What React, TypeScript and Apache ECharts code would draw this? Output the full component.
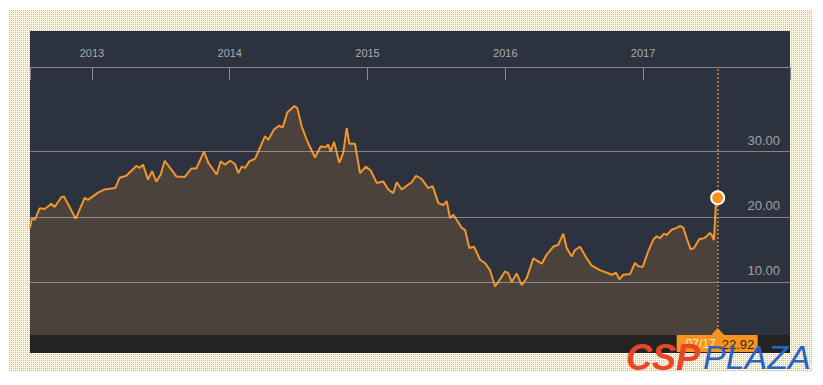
import React, { useEffect, useRef } from "react";
import * as echarts from "echarts";

// Year tick labels on the top axis
const yearTicks = [2013, 2014, 2015, 2016, 2017];
// Price labels on the right axis
const priceTicks = [10, 20, 30];

// Dates as decimal years
const dates = [
  2012.55, 2012.564, 2012.584, 2012.62, 2012.657, 2012.705, 2012.729, 2012.777, 2012.797, 2012.882,
  2012.947, 2012.971, 2013.044, 2013.092, 2013.169, 2013.201, 2013.249, 2013.322, 2013.346, 2013.37,
  2013.407, 2013.436, 2013.467, 2013.499, 2013.528, 2013.612, 2013.673, 2013.721, 2013.757, 2013.813,
  2013.844, 2013.905, 2013.934, 2013.966, 2014.002, 2014.038, 2014.062, 2014.087, 2014.111, 2014.142,
  2014.183, 2014.207, 2014.256, 2014.28, 2014.321, 2014.36, 2014.384, 2014.418, 2014.469, 2014.49,
  2014.522, 2014.563, 2014.619, 2014.66, 2014.699, 2014.715, 2014.733, 2014.757, 2014.795, 2014.824,
  2014.849, 2014.868, 2014.909, 2014.946, 2014.987, 2015.023, 2015.067, 2015.115, 2015.151, 2015.187,
  2015.212, 2015.248, 2015.321, 2015.352, 2015.393, 2015.441, 2015.473, 2015.514, 2015.55, 2015.575,
  2015.599, 2015.623, 2015.648, 2015.684, 2015.708, 2015.739, 2015.773, 2015.817, 2015.853, 2015.889,
  2015.926, 2015.95, 2015.998, 2016.022, 2016.047, 2016.083, 2016.119, 2016.156, 2016.204, 2016.265,
  2016.301, 2016.349, 2016.385, 2016.421, 2016.446, 2016.482, 2016.506, 2016.543, 2016.591, 2016.628,
  2016.688, 2016.737, 2016.773, 2016.804, 2016.828, 2016.857, 2016.906, 2016.942, 2016.966, 2016.998,
  2017.038, 2017.075, 2017.1, 2017.123, 2017.152, 2017.172, 2017.208, 2017.245, 2017.269, 2017.293,
  2017.317, 2017.346, 2017.37, 2017.409, 2017.443, 2017.462, 2017.486, 2017.499, 2017.515, 2017.53,
  2017.542,
];

// Prices
const prices = [
  18.3, 19.8, 19.5, 21.3, 21.2, 22.0, 21.5, 23.0, 23.1, 19.7,
  22.9, 22.6, 23.7, 24.2, 24.4, 26.0, 26.3, 27.8, 27.5, 28.0,
  25.7, 27.0, 25.4, 26.5, 28.6, 26.2, 26.1, 27.4, 27.4, 30.0,
  28.3, 26.5, 28.5, 28.0, 28.6, 28.1, 26.7, 27.7, 27.5, 28.5,
  28.9, 30.0, 32.4, 31.8, 33.4, 34.0, 33.7, 36.0, 37.0, 36.7,
  33.9, 31.6, 29.1, 30.8, 30.7, 31.1, 30.0, 31.5, 28.3, 29.8,
  33.6, 31.2, 31.2, 26.7, 27.7, 27.1, 25.2, 25.4, 24.2, 23.6,
  25.3, 24.2, 25.3, 26.3, 25.8, 24.4, 24.7, 22.1, 21.8, 22.4,
  19.8, 20.3, 19.5, 18.3, 18.0, 15.2, 15.4, 13.4, 12.9, 11.8,
  9.3, 10.0, 11.6, 11.3, 10.0, 11.3, 9.5, 10.6, 13.6, 12.8,
  14.2, 15.4, 15.7, 17.4, 15.2, 13.9, 14.9, 15.4, 13.6, 12.5,
  11.8, 11.4, 11.1, 11.4, 10.4, 11.1, 11.2, 12.9, 12.4, 12.3,
  14.7, 16.5, 17.0, 16.7, 17.4, 17.2, 18.0, 18.3, 18.6, 18.3,
  16.7, 15.0, 15.2, 16.6, 16.7, 17.0, 17.5, 17.2, 16.4, 22.4,
  22.92,
];

const X_MIN = 2012.55;
const X_MAX = 2018.067;

const dotPattern =
  "url(\"data:image/svg+xml,%3Csvg xmlns='http://www.w3.org/2000/svg' width='2' height='2'%3E%3Crect width='1' height='1' fill='%23cdb994'/%3E%3C/svg%3E\")";

export default function App() {
  const ref = useRef<HTMLDivElement>(null);

  useEffect(() => {
    const chart = echarts.init(ref.current!, null, { renderer: "svg" });
    const pts = dates.map((d, i) => [d, prices[i]]);
    const last = pts[pts.length - 1];
    const axisGray = "#868b93";

    chart.setOption({
      animation: false,
      backgroundColor: "transparent",
      grid: { left: 30, right: 33, top: 67, bottom: 38 },
      xAxis: {
        type: "value",
        position: "top",
        min: X_MIN,
        max: X_MAX,
        axisLine: { show: true, onZero: false, lineStyle: { color: axisGray, width: 1 } },
        axisTick: {
          show: true,
          inside: true,
          length: 13,
          customValues: [X_MIN, ...yearTicks, X_MAX],
          lineStyle: { color: axisGray, width: 1 },
        },
        axisLabel: {
          customValues: yearTicks,
          formatter: (v: number) => String(Math.round(v)),
          color: "#a7abb2",
          fontSize: 11,
          fontFamily: "Liberation Sans, Arial, sans-serif",
          margin: 9,
        },
        splitLine: { show: false },
      },
      yAxis: {
        type: "value",
        position: "right",
        min: 0,
        max: 43,
        axisLine: { show: false },
        axisTick: { show: false },
        splitLine: { show: false },
        axisLabel: {
          inside: true,
          customValues: priceTicks,
          formatter: (v: number) => v.toFixed(2),
          color: "#9ca1a9",
          fontSize: 13,
          fontFamily: "Liberation Sans, Arial, sans-serif",
          margin: 10,
          verticalAlign: "bottom",
          padding: [0, 0, 5, 0],
        },
      },
      series: [
        {
          type: "line",
          data: pts,
          showSymbol: false,
          symbol: "none",
          z: 2,
          lineStyle: { color: "#f2952d", width: 2 },
          areaStyle: { color: "#4b423b", opacity: 1 },
          markLine: {
            silent: true,
            symbol: "none",
            label: { show: false },
            data: [
              ...priceTicks.map((v) => ({
                yAxis: v,
                lineStyle: { color: "rgba(200,200,200,0.55)", type: "solid", width: 1 },
              })),
              {
                xAxis: last[0],
                lineStyle: { color: "#c8873a", type: [2, 2], width: 1.5 },
              },
            ],
          },
        },
        {
          type: "scatter",
          data: [last],
          symbol: "circle",
          symbolSize: 13,
          z: 5,
          itemStyle: { color: "#f7931e", borderColor: "#ffffff", borderWidth: 2, opacity: 1 },
        },
      ],
    });

    const [px] = chart.convertToPixel({ gridIndex: 0 }, last as number[]);
    const yr = Math.floor(last[0]);
    const mo = Math.floor((last[0] - yr) * 12) + 1;
    const dateText = String(mo).padStart(2, "0") + "/" + String(yr % 100).padStart(2, "0");
    const orange = "#f7931e";

    chart.setOption({
      graphic: [
        { type: "rect", z: 10, shape: { x: 30, y: 335, width: 760, height: 18 }, style: { fill: "#232323" } },
        { type: "rect", z: 11, shape: { x: px - 41, y: 335, width: 81, height: 17 }, style: { fill: orange } },
        {
          type: "polygon",
          z: 11,
          shape: { points: [[px - 7, 335.5], [px, 328], [px + 7, 335.5]] },
          style: { fill: orange },
        },
        {
          type: "text",
          z: 12,
          x: px - 32,
          y: 344,
          style: {
            text: dateText,
            fill: "#ffe9cc",
            font: "12px Liberation Sans, Arial, sans-serif",
            verticalAlign: "middle",
          },
        },
        {
          type: "text",
          z: 12,
          x: px + 4,
          y: 344,
          style: {
            text: last[1].toFixed(2),
            fill: "#2a2a2a",
            font: "13px Liberation Sans, Arial, sans-serif",
            verticalAlign: "middle",
          },
        },
        {
          type: "text",
          z: 20,
          x: 626,
          y: 357,
          style: {
            text: "CSP",
            fill: "#e8452b",
            font: "italic 900 36px Liberation Sans, Arial, sans-serif",
            verticalAlign: "middle",
          },
        },
        {
          type: "text",
          z: 20,
          x: 703,
          y: 357,
          style: {
            text: "PLAZA",
            fill: "#2563c7",
            font: "italic 34px Liberation Sans, Arial, sans-serif",
            verticalAlign: "middle",
          },
        },
      ],
    });

    return () => chart.dispose();
  }, []);

  return (
    <div style={{ position: "fixed", left: 0, top: 0, width: 823, height: 385, background: "#ffffff" }}>
      <div
        style={{
          position: "absolute",
          left: 9,
          top: 10,
          width: 803,
          height: 362,
          backgroundColor: "#fcf5e2",
          backgroundImage: dotPattern,
        }}
      />
      <div style={{ position: "absolute", left: 30, top: 31, width: 760, height: 322, background: "#2c333e" }} />
      <div ref={ref} style={{ position: "absolute", left: 0, top: 0, width: 823, height: 385 }} />
    </div>
  );
}
